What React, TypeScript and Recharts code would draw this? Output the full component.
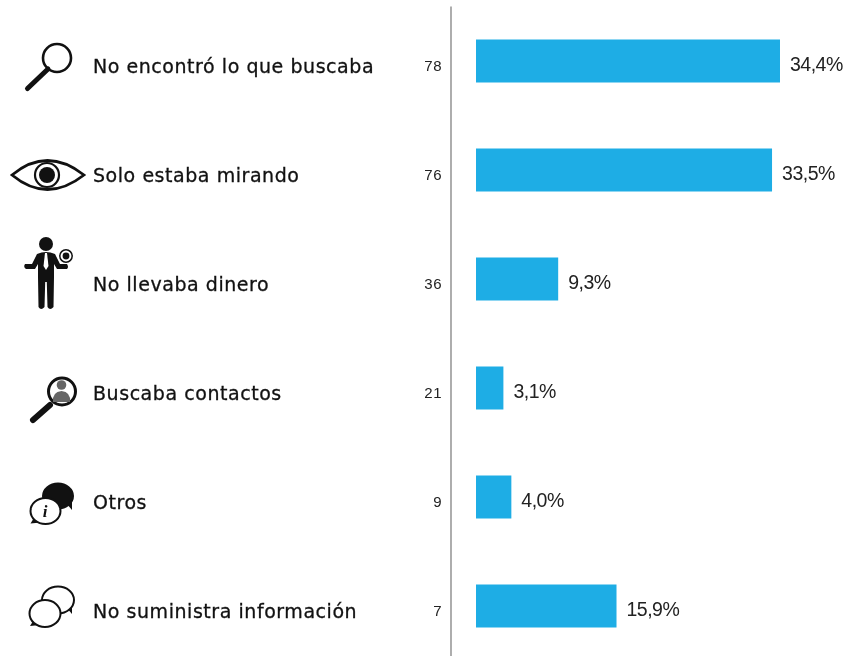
import React from "react";
import { BarChart, Bar, XAxis, YAxis, LabelList } from "recharts";

const categories = [
  "No encontró lo que buscaba",
  "Solo estaba mirando",
  "No llevaba dinero",
  "Buscaba contactos",
  "Otros",
  "No suministra información",
];
const counts = [78, 76, 36, 21, 9, 7];
const percents = [34.4, 33.5, 9.3, 3.1, 4.0, 15.9];

const data = categories.map((name, i) => ({ name, count: counts[i], percent: percents[i] }));

const INK = "#111111";

const Bubble = ({ cx, cy, fill, rx = 15, ry = 13 }: any) => (
  <g>
    <path d={`M${cx - 11} ${cy + 6} L${cx - 15} ${cy + 12.5} L${cx - 5} ${cy + 11.5} Z`} fill={INK} />
    <ellipse cx={cx} cy={cy} rx={rx} ry={ry} fill={fill} stroke={INK} strokeWidth={2} />
  </g>
);

const BackBubble = ({ cx, cy, fill, rx = 15, ry = 12.5 }: any) => (
  <g>
    <path d={`M${cx + 8} ${cy + 7} L${cx + 14} ${cy + 14} L${cx + 14} ${cy + 4} Z`} fill={INK} />
    <ellipse cx={cx} cy={cy} rx={rx} ry={ry} fill={fill} stroke={INK} strokeWidth={2} />
  </g>
);

const icons = [
  <g key="search">
    <circle cx={57} cy={-3} r={14} fill="none" stroke={INK} strokeWidth={2.6} />
    <line x1={48} y1={8} x2={27.5} y2={27.5} stroke={INK} strokeWidth={5} strokeLinecap="round" />
  </g>,
  <g key="eye">
    <path d="M12 5 Q47 -24 84 5 Q47 34 12 5 Z" fill="#fff" stroke={INK} strokeWidth={2.8} />
    <circle cx={47} cy={5} r={12} fill="#fff" stroke={INK} strokeWidth={2.2} />
    <circle cx={47} cy={5} r={8} fill={INK} />
  </g>,
  <g key="man">
    <circle cx={46} cy={-35} r={7} fill={INK} />
    <path d="M37 -25 Q46 -29 55 -25 L60 -15 L67 -15 Q69 -12 67 -10 L57 -10 L54 -15 L54 -2 L53.5 28 Q50 32 47.5 28 L46.8 3 L45.2 3 L44.5 28 Q41 32 38.5 28 L38 -2 L38 -15 L35 -10 L26 -10 Q23 -12 25 -15 L32 -15 Z" fill={INK} />
    <path d="M45 -26 L47 -26 L48.5 -13 L46 -9 L43.5 -13 Z" fill="#fff" />
    <circle cx={66} cy={-23} r={6.2} fill="#fff" stroke={INK} strokeWidth={1.5} />
    <circle cx={66} cy={-23} r={3.4} fill={INK} />
  </g>,
  <g key="contacts">
    <circle cx={62} cy={3.5} r={13.5} fill="#fff" stroke={INK} strokeWidth={3} />
    <line x1={50} y1={17} x2={33} y2={32} stroke={INK} strokeWidth={6} strokeLinecap="round" />
    <circle cx={61.5} cy={-3} r={4.8} fill="#666" />
    <path d="M53 14 Q52 4 61.5 3 Q71 4 70 14 Z" fill="#666" />
  </g>,
  <g key="otros">
    <BackBubble cx={58} cy={-1} fill={INK} />
    <Bubble cx={45.5} cy={14} fill="#fff" />
    <text x={45} y={20} fontFamily="'Liberation Serif'" fontStyle="italic" fontWeight={700} fontSize={17} textAnchor="middle" fill={INK}>i</text>
  </g>,
  <g key="none">
    <BackBubble cx={58} cy={-6} fill="#fff" rx={16} ry={13.5} />
    <Bubble cx={45} cy={7.5} fill="#fff" rx={15.5} ry={13.5} />
  </g>,
];

const RowTick = (props: any) => {
  const { y, payload, index } = props;
  return (
    <g transform={`translate(0, ${y})`}>
      {icons[index]}
      <text x={93} y={6.5} dominantBaseline="middle" fontFamily="'DejaVu Sans'" fontSize={19} letterSpacing={0.55} fill={INK} stroke={INK} strokeWidth={0.3}>
        {payload.value}
      </text>
      <text x={442} y={6} dominantBaseline="middle" textAnchor="end" fontFamily="'Liberation Sans'" fontSize={15} letterSpacing={0.5} fill="#222">
        {counts[index]}
      </text>
    </g>
  );
};

const PercentLabel = (props: any) => {
  const { x, y, width, height, value } = props;
  return (
    <text
      x={x + width + 10}
      y={y + height / 2 + 5}
      dominantBaseline="middle"
      fontFamily="'Liberation Sans'"
      fontSize={19.5}
      letterSpacing={-0.5}
      fill="#222"
    >
      {`${value.toFixed(1).replace(".", ",")}%`}
    </text>
  );
};

export default function App() {
  return (
    <div style={{ position: "absolute", left: 0, top: 0, width: 843, height: 656, overflow: "hidden", background: "#fff", filter: "blur(0.4px)" }}>
      <BarChart
        width={843}
        height={660.5}
        data={data}
        layout="vertical"
        barSize={43}
        margin={{ top: 6.5, right: 0, bottom: 0, left: 0 }}
      >
        <XAxis type="number" hide domain={[-2.83, 41.53]} />
        <YAxis
          type="category"
          dataKey="name"
          width={451}
          axisLine={{ stroke: "#777777", strokeWidth: 1.2 }}
          tickLine={false}
          interval={0}
          tick={RowTick}
        />
        <Bar dataKey="percent" fill="#1EADE5" isAnimationActive={false}>
          <LabelList dataKey="percent" content={PercentLabel} />
        </Bar>
      </BarChart>
    </div>
  );
}
